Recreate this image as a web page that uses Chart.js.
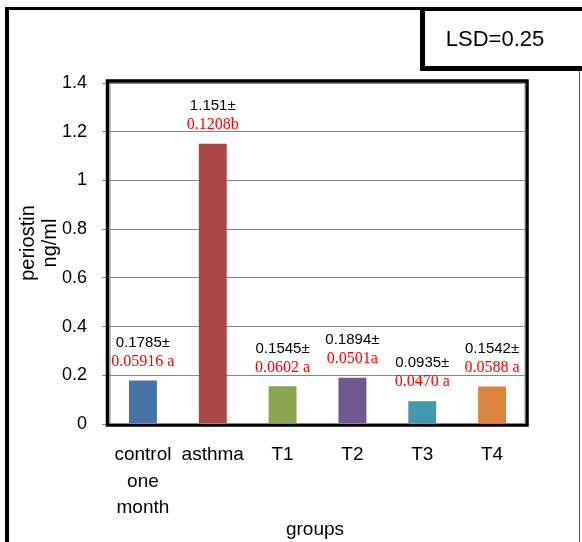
<!DOCTYPE html>
<html>
<head>
<meta charset="utf-8">
<script src="https://cdn.jsdelivr.net/npm/chart.js@4.4.1/dist/chart.umd.min.js"></script>
<style>
  body { margin: 0; background: #fff; }
  canvas { display: block; }
</style>
</head>
<body>
<canvas id="chart" width="582" height="542"></canvas>
<script>
// data
const groups = [['control', 'one', 'month'], 'asthma', 'T1', 'T2', 'T3', 'T4'];
const means = [0.1785, 1.151, 0.1545, 0.1894, 0.0935, 0.1542];
const sdLabels = ['0.05916 a', '0.1208b', '0.0602 a', '0.0501a', '0.0470 a', '0.0588 a'];
const yTicks = [0, 0.2, 0.4, 0.6, 0.8, 1, 1.2, 1.4];
const barColors = ['#4572a7', '#aa4643', '#89a54e', '#71588f', '#4198af', '#db843d'];

const SANS = '"Liberation Sans", Arial, sans-serif';
const SERIF = '"Liberation Serif", "Times New Roman", serif';

// frame, LSD box, titles and the mean/sd labels
const decor = {
    id: 'decor',
    beforeDraw(chart) {
        const ctx = chart.ctx;
        ctx.save();
        ctx.fillStyle = '#fff';
        ctx.fillRect(0, 0, chart.width, chart.height);
        ctx.restore();
    },
    afterDatasetsDraw(chart) {
        const { ctx, chartArea: a } = chart;
        ctx.save();

        // plot area border (black with grey inner line)
        ctx.strokeStyle = '#000';
        ctx.lineWidth = 3.5;
        ctx.strokeRect(a.left - 0.5, a.top - 2, a.right - a.left + 0.5, a.bottom - a.top + 3);
        ctx.strokeStyle = '#8a8a8a';
        ctx.lineWidth = 1;
        ctx.strokeRect(a.left + 2, a.top + 0.5, a.right - a.left - 4, a.bottom - a.top - 1);

        // outer frame
        ctx.fillStyle = '#000';
        ctx.fillRect(5, 7, 4, 535);
        ctx.fillRect(5, 7, 416, 3);
        ctx.fillStyle = '#555';
        ctx.fillRect(579, 70, 1, 472);

        // LSD box
        ctx.fillStyle = '#000';
        ctx.fillRect(420, 7, 162, 4);
        ctx.fillRect(420, 7, 5, 64);
        ctx.fillRect(420, 66, 162, 5);
        ctx.font = '22px ' + SANS;
        ctx.textAlign = 'center';
        ctx.textBaseline = 'middle';
        ctx.fillText('LSD=0.25', 495, 40);

        // axis titles
        ctx.font = '19px ' + SANS;
        ctx.fillText('groups', 315, 530);
        ctx.font = '20px ' + SANS;
        ctx.save();
        ctx.translate(28, 243);
        ctx.rotate(-Math.PI / 2);
        ctx.fillText('periostin', 0, 0);
        ctx.restore();
        ctx.save();
        ctx.translate(50, 243);
        ctx.rotate(-Math.PI / 2);
        ctx.fillText('ng/ml', 0, 0);
        ctx.restore();

        // mean ± sd labels above bars
        const meta = chart.getDatasetMeta(0);
        meta.data.forEach((bar, i) => {
            ctx.fillStyle = '#000';
            ctx.font = '15px ' + SANS;
            ctx.fillText(means[i] + '±', bar.x, bar.y - 38);
            ctx.fillStyle = '#ff0000';
            ctx.font = '16px ' + SERIF;
            ctx.fillText(sdLabels[i], bar.x, bar.y - 19);
        });

        ctx.restore();
    }
};

const ctx = document.getElementById('chart').getContext('2d');
const chart = new Chart(ctx, {
    type: 'bar',
    data: {
        labels: groups,
        datasets: [{
            data: means,
            backgroundColor: barColors,
            borderWidth: 0,
            barPercentage: 0.4,
            categoryPercentage: 1
        }]
    },
    options: {
        responsive: false,
        animation: false,
        layout: {
            padding: { top: 83, right: 55, left: 0, bottom: 0 }
        },
        plugins: {
            legend: { display: false },
            tooltip: { enabled: false }
        },
        scales: {
            x: {
                grid: { display: false, drawTicks: false },
                border: { display: false },
                ticks: {
                    color: '#000',
                    padding: 18,
                    maxRotation: 0,
                    autoSkip: false,
                    font: { family: SANS, size: 19, lineHeight: 1.38 }
                },
                afterFit: s => { s.height = 118; }
            },
            y: {
                min: 0,
                max: 1.4,
                afterBuildTicks: s => { s.ticks = yTicks.map(v => ({ value: v })); },
                grid: { color: '#868686', lineWidth: 1, tickLength: 6 },
                border: { display: false },
                ticks: {
                    color: '#000',
                    padding: 15,
                    font: { family: SANS, size: 18 },
                    callback: v => String(v)
                },
                afterFit: s => { s.width = 108; }
            }
        }
    },
    plugins: [decor]
});
</script>
</body>
</html>
